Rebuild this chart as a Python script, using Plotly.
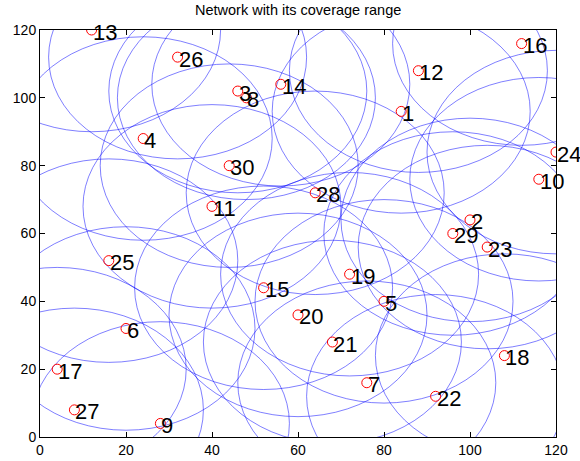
import plotly.graph_objects as go

# Sensor node positions (node i is at index i-1)
node_ids = list(range(1, 31))
node_x = [84, 100, 46, 24, 80, 20, 76, 48, 28, 116,
          40, 88, 12, 56, 52, 112, 4, 108, 72, 60,
          68, 92, 104, 120, 16, 32, 8, 64, 96, 44]
node_y = [96, 64, 102, 88, 40, 32, 16, 100, 4, 76,
          68, 108, 120, 104, 44, 116, 20, 24, 48, 36,
          28, 12, 56, 84, 52, 112, 8, 72, 60, 80]
coverage_radius = 30

axis_ticks = [0, 20, 40, 60, 80, 100, 120]

FONT = "Liberation Sans, Arial, sans-serif"

fig = go.Figure()

# Nodes as open red circles
fig.add_trace(go.Scatter(
    x=node_x, y=node_y, mode="markers",
    marker=dict(symbol="circle-open", size=10, color="red", line=dict(width=1)),
    hoverinfo="skip", showlegend=False,
))

# Coverage range of every node, clipped to the plot area
shapes = []
for cx, cy in zip(node_x, node_y):
    shapes.append(dict(
        type="circle", xref="x", yref="y",
        x0=cx - coverage_radius, x1=cx + coverage_radius,
        y0=cy - coverage_radius, y1=cy + coverage_radius,
        line=dict(color="rgba(0,0,255,0.5)", width=1),
        layer="below",
    ))

# Node numbers
annotations = []
for nid, cx, cy in zip(node_ids, node_x, node_y):
    annotations.append(dict(
        x=cx, y=cy, xref="x", yref="y", text=str(nid),
        showarrow=False, xanchor="left", yanchor="middle",
        xshift=-1, yshift=-2,
        font=dict(family=FONT, size=22, color="black"),
    ))

axis_common = dict(
    range=[0, 120], tickvals=axis_ticks, ticktext=[str(v) for v in axis_ticks],
    showgrid=False, zeroline=False, automargin=False,
    showline=True, linecolor="black", linewidth=1, mirror="ticks",
    ticks="inside", ticklen=5, tickcolor="black", tickwidth=1,
    tickfont=dict(family=FONT, size=14, color="black"),
)

fig.update_layout(
    width=580, height=461,
    margin=dict(l=40, r=24, t=30, b=24, autoexpand=False),
    paper_bgcolor="white", plot_bgcolor="white",
    title=dict(text="Network with its coverage range", x=0.514, xanchor="center",
               y=0.978, yanchor="middle",
               font=dict(family=FONT, size=14.5, color="black")),
    xaxis=axis_common, yaxis=axis_common,
    shapes=shapes, annotations=annotations,
)

fig.write_html("out.html")
